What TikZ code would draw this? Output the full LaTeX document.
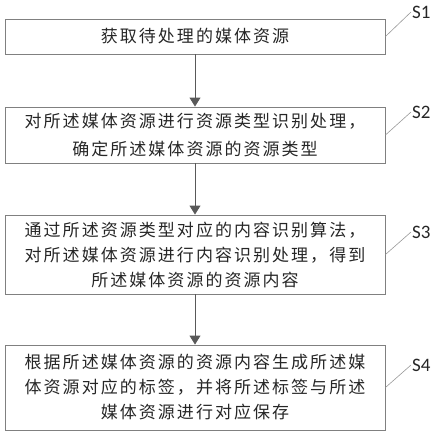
\documentclass[tikz,border=0pt]{standalone}
\usepackage{fontspec}
\newfontfamily\cjkFont[LetterSpace=12]{Noto Sans CJK SC}
\newfontfamily\tagFont{Carlito}
\usetikzlibrary{arrows.meta}
\newcommand{\stepTag}[4]{%%
  \node[tagStyle] (#2) at (411,#3) {#4};
  \draw[leaderStyle] (#1.east) -- (#2.west);
}

\begin{document}
\begin{tikzpicture}[%%
  x=1pt,y=-1pt,%%
  boxStyle/.style={draw=black!50,line width=0.9pt,minimum width=380pt,align=center,inner sep=2pt,%%
    text=black!85,font=\cjkFont\fontsize{17}{25}\selectfont},%%
  flowStyle/.style={-{Triangle[width=11pt,length=9pt]},black!65,line width=0.9pt},%%
  leaderStyle/.style={-,black!40,line width=0.6pt},%%
  tagStyle/.style={anchor=west,inner sep=1pt,text=black!85,font=\tagFont\fontsize{19}{20}\selectfont}
]
\useasboundingbox (0,0) rectangle (443,436);
%%
%% The four steps.
\node[boxStyle,minimum height=35pt] (box1) at (195,36.5) {获取待处理的媒体资源};
\node[boxStyle,minimum height=56pt] (box2) at (195,135)
  {对所述媒体资源进行资源类型识别处理，\\[3pt]确定所述媒体资源的资源类型};
\node[boxStyle,minimum height=79pt] (box3) at (195,254.5)
  {通过所述资源类型对应的内容识别算法，\\对所述媒体资源进行内容识别处理，得到\\所述媒体资源的资源内容};
\node[boxStyle,minimum height=85pt] (box4) at (195,387.5)
  {根据所述媒体资源的资源内容生成所述媒\\体资源对应的标签，并将所述标签与所述\\媒体资源进行对应保存};
%%
%% The arrows between them.
\draw[flowStyle] (box1) -- (box2);
\draw[flowStyle] (box2) -- (box3);
\draw[flowStyle] (box3) -- (box4);
%%
%% The step labels.
\stepTag{box1}{s1}{12}{S1}
\stepTag{box2}{s2}{112}{S2}
\stepTag{box3}{s3}{232}{S3}
\stepTag{box4}{s4}{365}{S4}
\end{tikzpicture}
\end{document}
